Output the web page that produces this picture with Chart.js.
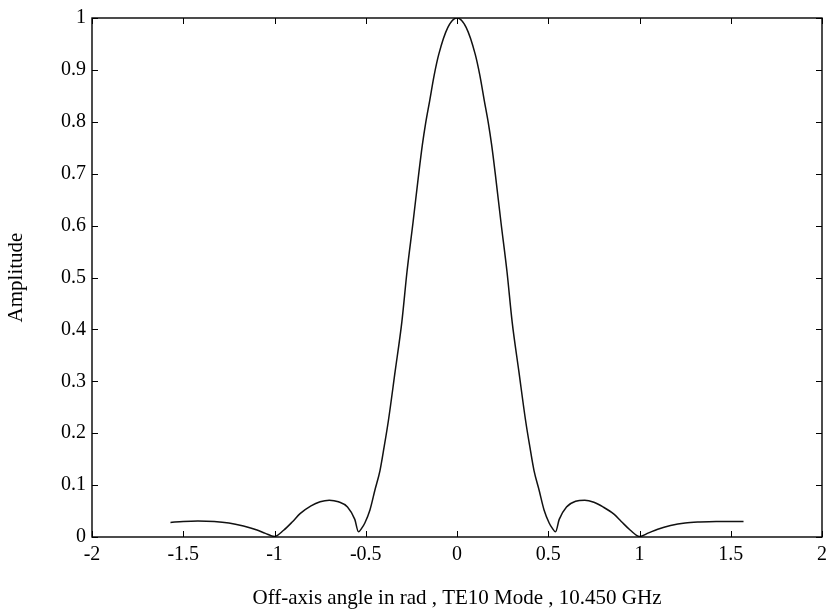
<!DOCTYPE html>
<html>
<head>
<meta charset="utf-8">
<script src="https://cdn.jsdelivr.net/npm/chart.js@4"></script>
<style>
    html, body { margin: 0; padding: 0; background: #fff; }
    #wrap { width: 833px; height: 612px; }
</style>
</head>
<body>
<div id="wrap"><canvas id="pattern"></canvas></div>
<script>
// off-axis angle (rad) and amplitude
var angles = [
    -1.57, -1.5, -1.42, -1.33, -1.25, -1.17, -1.1, -1.05, -1.0, -0.95, -0.9, -0.86, -0.8, -0.75,
    -0.7, -0.65, -0.6, -0.56, -0.54, -0.52, -0.505, -0.477, -0.45, -0.422, -0.4, -0.376, -0.339,
    -0.302, -0.274, -0.241, -0.209, -0.19, -0.172, -0.15, -0.125, -0.1, -0.05, 0,
    0.05, 0.1, 0.125, 0.15, 0.172, 0.19, 0.209, 0.241, 0.274, 0.302, 0.339, 0.376, 0.4, 0.422,
    0.45, 0.477, 0.505, 0.52, 0.54, 0.56, 0.6, 0.65, 0.7, 0.75, 0.8, 0.86, 0.9, 0.95, 1.0,
    1.05, 1.1, 1.17, 1.25, 1.33, 1.42, 1.5, 1.57
];
var amplitude = [
    0.028, 0.030, 0.031, 0.030, 0.027, 0.021, 0.014, 0.007, 0.001, 0.013, 0.030, 0.045, 0.060, 0.068,
    0.071, 0.068, 0.058, 0.034, 0.010, 0.018, 0.027, 0.052, 0.090, 0.128, 0.172, 0.224, 0.319,
    0.415, 0.511, 0.606, 0.702, 0.755, 0.797, 0.840, 0.890, 0.930, 0.982, 1.0,
    0.982, 0.930, 0.890, 0.840, 0.797, 0.755, 0.702, 0.606, 0.511, 0.415, 0.319, 0.224, 0.172, 0.128,
    0.090, 0.052, 0.027, 0.018, 0.010, 0.034, 0.058, 0.069, 0.071, 0.067, 0.058, 0.044, 0.030, 0.013, 0.001,
    0.008, 0.015, 0.022, 0.027, 0.029, 0.030, 0.030, 0.030
];
var xTicks = [-2, -1.5, -1, -0.5, 0, 0.5, 1, 1.5, 2];
var yTicks = [0, 0.1, 0.2, 0.3, 0.4, 0.5, 0.6, 0.7, 0.8, 0.9, 1];

var FONT = "'Liberation Serif', 'Times New Roman', serif";

// matlab style box with inward ticks on all four sides
var boxTicks = {
    id: "boxTicks",
    afterDraw: function (chart) {
        var ctx = chart.ctx;
        var a = chart.chartArea;
        var len = 6;
        ctx.save();
        ctx.strokeStyle = "#000";
        ctx.lineWidth = 1;
        ctx.beginPath();
        xTicks.forEach(function (v) {
            var px = Math.round(chart.scales.x.getPixelForValue(v)) + 0.5;
            ctx.moveTo(px, a.bottom); ctx.lineTo(px, a.bottom - len);
            ctx.moveTo(px, a.top); ctx.lineTo(px, a.top + len);
        });
        yTicks.forEach(function (v) {
            var py = Math.round(chart.scales.y.getPixelForValue(v)) + 0.5;
            ctx.moveTo(a.left, py); ctx.lineTo(a.left + len, py);
            ctx.moveTo(a.right, py); ctx.lineTo(a.right - len, py);
        });
        ctx.stroke();
        ctx.lineWidth = 1.4;
        ctx.strokeRect(a.left, a.top, a.right - a.left, a.bottom - a.top);
        ctx.restore();
    }
};

new Chart(document.getElementById("pattern"), {
    type: "scatter",
    data: {
        datasets: [{
            data: angles.map(function (x, i) { return { x: x, y: amplitude[i] }; }),
            showLine: true,
            borderColor: "#111",
            borderWidth: 1.5,
            pointRadius: 0,
            cubicInterpolationMode: "monotone",
            fill: false
        }]
    },
    options: {
        responsive: true,
        maintainAspectRatio: false,
        animation: false,
        layout: { padding: { top: 14, right: 10, left: 0, bottom: 0 } },
        plugins: { legend: { display: false }, tooltip: { enabled: false } },
        scales: {
            x: {
                type: "linear",
                min: -2, max: 2,
                afterFit: function (s) { s.height = 75; },
                afterBuildTicks: function (s) { s.ticks = xTicks.map(function (v) { return { value: v }; }); },
                grid: { display: false, drawTicks: false },
                border: { display: false },
                ticks: {
                    color: "#000",
                    padding: 6,
                    maxRotation: 0,
                    font: { family: FONT, size: 20 },
                    callback: function (v) { return String(v); }
                },
                title: {
                    display: true,
                    text: "Off-axis angle in rad , TE10 Mode , 10.450 GHz",
                    color: "#000",
                    font: { family: FONT, size: 21 },
                    padding: { top: 0, bottom: 1 }
                }
            },
            y: {
                min: 0, max: 1,
                afterFit: function (s) { s.width = 92; },
                afterBuildTicks: function (s) { s.ticks = yTicks.map(function (v) { return { value: v }; }); },
                grid: { display: false, drawTicks: false },
                border: { display: false },
                ticks: {
                    color: "#000",
                    padding: 6,
                    font: { family: FONT, size: 20 },
                    callback: function (v) { return String(v); }
                },
                title: {
                    display: true,
                    text: "Amplitude",
                    color: "#000",
                    font: { family: FONT, size: 21 },
                    padding: { top: 4, bottom: 0 }
                }
            }
        }
    },
    plugins: [boxTicks]
});
</script>
</body>
</html>
